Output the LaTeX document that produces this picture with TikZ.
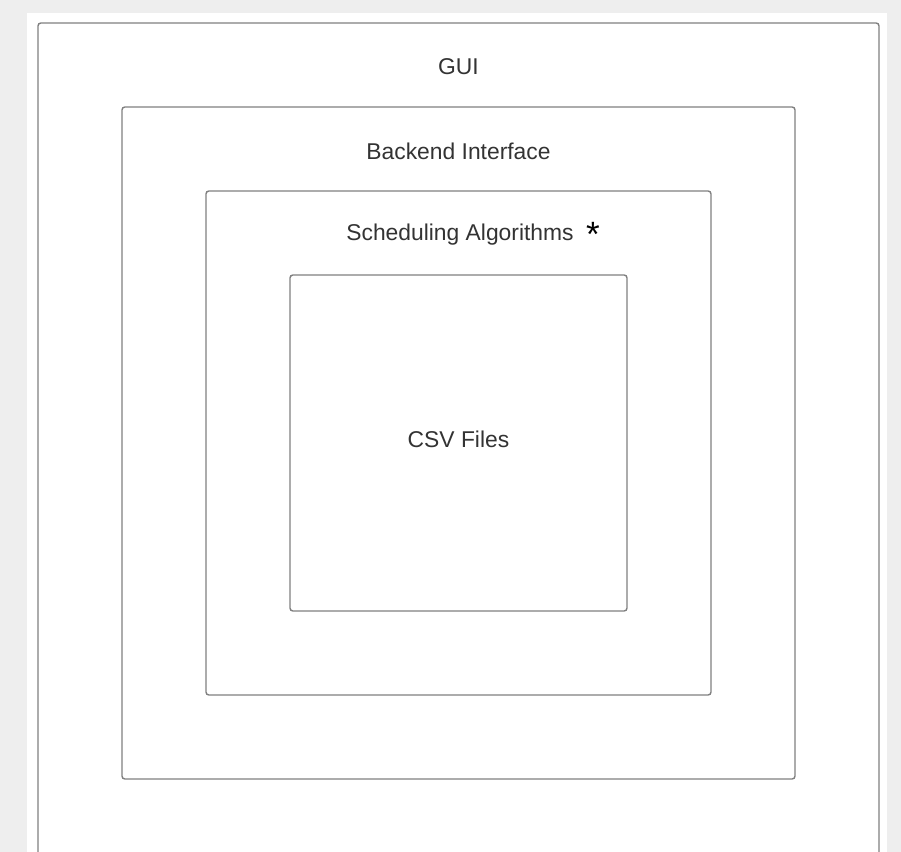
\documentclass[tikz,border=0pt]{standalone}
\usepackage{fontspec}
\setmainfont{Liberation Sans}
\definecolor{bggray}{RGB}{238,238,238}
\definecolor{boxgray}{RGB}{128,128,128}
\definecolor{textgray}{RGB}{51,51,51}
\tikzset{
  layerbox/.style={draw=boxgray,line width=1.2pt,rounded corners=2.5pt},
  layerlabel/.style={anchor=base,inner sep=0pt,text=textgray,font=\fontsize{19.5}{23}\selectfont}
}
\begin{document}
\begin{tikzpicture}[x=0.03cm,y=-0.03cm]
	\fill[bggray] (0,0) rectangle (901,852);
	\useasboundingbox (0,0) rectangle (901,852);
	\fill[white] (27,13) rectangle (887,852);
	\begin{scope}
		\clip (27,13) rectangle (887,852);
		\foreach \i in {0,...,3}
			\draw[layerbox] (38+84*\i,23+84*\i) rectangle (879-84*\i,863-84*\i);
	\end{scope}
	\node[layerlabel] (gui) at (458.5,75) {GUI};
	\node[layerlabel] (backend) at (458.5,160) {Backend Interface};
	\node[layerlabel] (sched) at (460,241) {Scheduling Algorithms};
	\node[inner sep=0pt,font=\fontsize{30}{30}\selectfont] (star) at (593,234) {*};
	\node[layerlabel] (csv) at (458.5,447) {CSV Files};
\end{tikzpicture}
\end{document}
